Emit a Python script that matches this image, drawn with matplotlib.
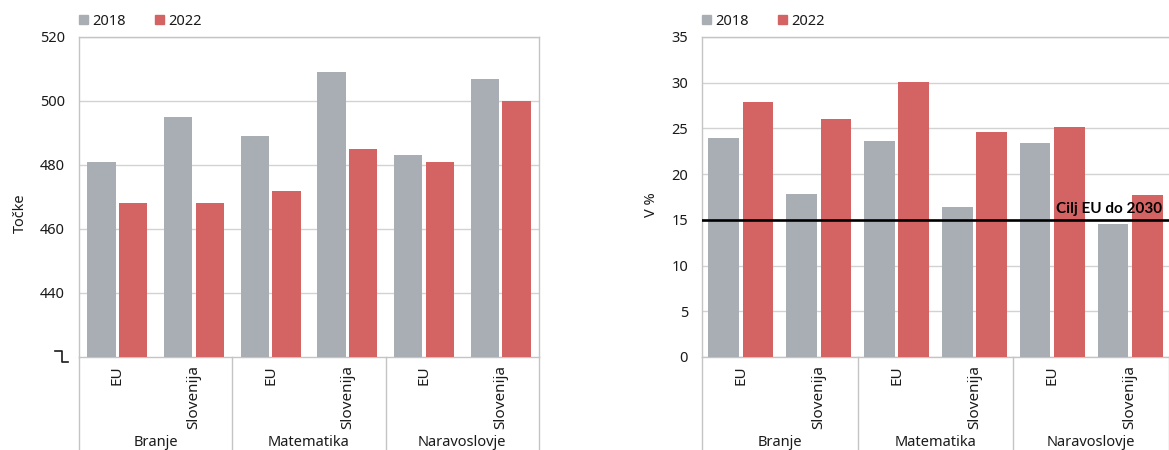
import matplotlib
matplotlib.use("Agg")
import matplotlib.pyplot as plt
from matplotlib.lines import Line2D
from matplotlib.patches import Patch
import matplotlib.transforms as mtransforms
import numpy as np

plt.rcParams['font.family'] = ['Noto Sans', 'DejaVu Sans']

# ---------------- data ----------------
countries = ["EU", "Slovenija", "EU", "Slovenija", "EU", "Slovenija"]
groups = ["Branje", "Matematika", "Naravoslovje"]
series_names = ["2018", "2022"]

points_2018 = [481, 495, 489, 509, 483, 507]
points_2022 = [468, 468, 472, 485, 481, 500]

share_2018 = [24.0, 17.8, 23.6, 16.4, 23.4, 14.5]
share_2022 = [27.9, 26.0, 30.1, 24.6, 25.2, 17.7]

target_value = 15
target_label = "Cilj EU do 2030"

left_ticks = [440, 460, 480, 500, 520]
right_ticks = [0, 5, 10, 15, 20, 25, 30, 35]

# ---------------- style ----------------
GRAY = "#a8aeb4"
RED = "#d46464"
GRID = "#d2d2d2"
SPINE = "#c4c4c4"
TXT = "#1a1a1a"
FS = 10.5

W, H = 1169, 450
fig = plt.figure(figsize=(W / 100, H / 100), dpi=100)

def px_axes(l, r, t, b):
    return fig.add_axes([l / W, 1 - b / H, (r - l) / W, (b - t) / H])

axL = px_axes(79, 539, 37, 357)
axR = px_axes(702, 1169, 37, 357)

x = np.arange(len(countries))


def style(ax, bw, gap, v1, v2, ylim, ticks, ylabel, lab_xy, show_right):
    off = bw / 2 + gap / 2
    ax.bar(x - off, v1, width=bw, color=GRAY, zorder=3)
    ax.bar(x + off, v2, width=bw, color=RED, zorder=3)
    ax.set_xlim(-0.5, len(countries) - 0.5)
    ax.set_ylim(*ylim)
    ax.set_yticks(ticks)
    ax.set_yticklabels([str(t) for t in ticks], fontsize=FS, color=TXT)
    ax.set_xticks([])
    ax.tick_params(axis='y', length=0, pad=10)
    ax.yaxis.grid(True, color=GRID, lw=1.0, zorder=0)
    ax.set_axisbelow(True)
    for s in ["left", "top", "bottom", "right"]:
        ax.spines[s].set_color(SPINE)
        ax.spines[s].set_linewidth(1.0)
    ax.spines["right"].set_visible(show_right)
    ax.set_ylabel(ylabel, fontsize=FS, color=TXT)
    ax.yaxis.set_label_coords(*lab_xy)

    trans = mtransforms.blended_transform_factory(ax.transData, ax.transAxes)
    for i, c in enumerate(countries):
        ax.text(i, -0.026, c, rotation=90, ha='center', va='top', fontsize=11,
                color=TXT, transform=trans)
    for g, name in enumerate(groups):
        ax.text(2 * g + 0.5, -0.266, name, ha='center', va='center', fontsize=FS,
                color=TXT, transform=trans)
    for sx in [-0.5, 1.5, 3.5, 5.5]:
        ax.add_line(Line2D([sx, sx], [0, -0.4], transform=trans, color=SPINE,
                           lw=1.0, clip_on=False))

    handles = [Patch(color=GRAY), Patch(color=RED)]
    leg = ax.legend(handles, series_names, ncol=2, loc='lower left',
                    bbox_to_anchor=(0.001, 1.025), frameon=False, fontsize=FS,
                    handlelength=0.6, handleheight=0.6, handletextpad=0.3,
                    columnspacing=2.0, borderaxespad=0, borderpad=0)
    for t in leg.get_texts():
        t.set_color(TXT)


style(axL, 0.368, 0.045, points_2018, points_2022, (420, 520), left_ticks,
      "Točke", (-0.111, 0.45), True)
style(axR, 0.395, 0.047, share_2018, share_2022, (0, 35), right_ticks,
      "V %", (-0.092, 0.475), False)

# axis break symbol on the left chart
bx = [(55 - 79) / 460, (62 - 79) / 460, (62 - 79) / 460, (68 - 79) / 460]
by = [(357 - 351) / 320, (357 - 351) / 320, (357 - 362) / 320, (357 - 362) / 320]
axL.plot(bx, by, transform=axL.transAxes, color=TXT, lw=1.2, clip_on=False)

# target line
axR.axhline(target_value, color="black", lw=1.9, zorder=5)
axR.text(0.985, target_value + 0.45, target_label,
         transform=mtransforms.blended_transform_factory(axR.transAxes, axR.transData),
         ha='right', va='bottom', fontsize=11, fontweight='bold',
         family=['Lato', 'Open Sans', 'DejaVu Sans'], color="black", zorder=6)

fig.savefig("out.png", dpi=100)
